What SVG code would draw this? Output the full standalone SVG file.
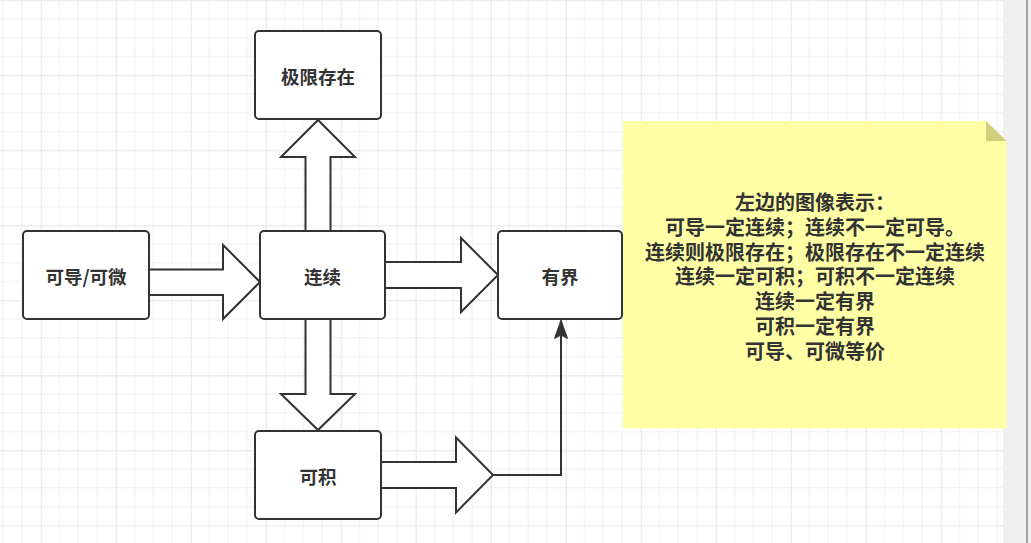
<svg xmlns="http://www.w3.org/2000/svg" width="1031" height="543" viewBox="0 0 1031 543">
<style>
.node{fill:#fff;stroke:#333;stroke-width:2}
.blk{fill:#fff;stroke:#333;stroke-width:2;stroke-linejoin:miter}
.lbl{font-family:"Noto Sans CJK SC","Liberation Sans",sans-serif;font-weight:bold;font-size:18.5px;fill:#333;text-anchor:middle;dominant-baseline:central}
.note{font-family:"Noto Sans CJK SC","Liberation Sans",sans-serif;font-weight:bold;font-size:20px;fill:#333;text-anchor:middle;dominant-baseline:central}
</style>
<defs>
<pattern id="grid" patternUnits="userSpaceOnUse" x="40.7" y="0.3" width="75" height="75">
<path d="M18.75 0V75M37.5 0V75M56.25 0V75M0 18.75H75M0 37.5H75M0 56.25H75" stroke="#f0f0f0" stroke-width="1" fill="none"/>
<path d="M0.5 0V75M0 0.5H75" stroke="#e4e4e4" stroke-width="1" fill="none"/>
</pattern>
</defs>
<rect x="0" y="0" width="1031" height="543" fill="#fff"/>
<rect x="0" y="0" width="1003" height="543" fill="url(#grid)"/>
<rect x="1003" y="0" width="28" height="543" fill="#f0f0f0"/>
<line x1="1027" y1="0" x2="1027" y2="543" stroke="#8a8a8a" stroke-width="1.5"/>

<g id="connectors">
<polygon class="blk" points="305.5,231 305.5,157 281,157 318,120 355,157 330.5,157 330.5,231"/>
<polygon class="blk" points="305.5,319 305.5,394 281,394 318,430 355,394 330.5,394 330.5,319"/>
<polygon class="blk" points="149,269.5 223,269.5 223,245 260,282 223,319 223,295 149,295"/>
<polygon class="blk" points="385,262 461,262 461,238 498,275 461,312 461,288 385,288"/>
<polygon class="blk" points="381,462 456,462 456,437.5 493,475 456,512.5 456,488 381,488"/>
<path d="M493 475H561V334" fill="none" stroke="#333" stroke-width="2"/>
<polygon points="561,320 567.5,338.5 561,335 554.5,338.5" fill="#333" stroke="#333" stroke-width="1"/>
</g>

<g id="node-jixian">
<rect class="node" x="255" y="31" width="126" height="88" rx="4"/>
<text class="lbl" x="318" y="75.5">极限存在</text>
</g>
<g id="node-kedao">
<rect class="node" x="23" y="231" width="126" height="88" rx="4"/>
<text class="lbl" x="86" y="275.5">可导/可微</text>
</g>
<g id="node-lianxu">
<rect class="node" x="260" y="231" width="125" height="88" rx="4"/>
<text class="lbl" x="322.5" y="275.5">连续</text>
</g>
<g id="node-youjie">
<rect class="node" x="498" y="231" width="124" height="88" rx="4"/>
<text class="lbl" x="560" y="275.5">有界</text>
</g>
<g id="node-keji">
<rect class="node" x="255" y="431" width="126" height="88" rx="4"/>
<text class="lbl" x="318" y="475.5">可积</text>
</g>

<g id="note">
<polygon points="623,121 986,121 1006.5,141 1006.5,428.5 623,428.5" fill="#ffffa6"/>
<polygon points="986,121 1006.5,141 986,141" fill="#cfcf7c"/>
<text class="note" x="815" y="201.5">左边的图像表示：</text>
<text class="note" x="815" y="226.5">可导一定连续；连续不一定可导。</text>
<text class="note" x="815" y="251">连续则极限存在；极限存在不一定连续</text>
<text class="note" x="815" y="275.5">连续一定可积；可积不一定连续</text>
<text class="note" x="815" y="300.5">连续一定有界</text>
<text class="note" x="815" y="325.5">可积一定有界</text>
<text class="note" x="815" y="350.5">可导、可微等价</text>
</g>
</svg>
